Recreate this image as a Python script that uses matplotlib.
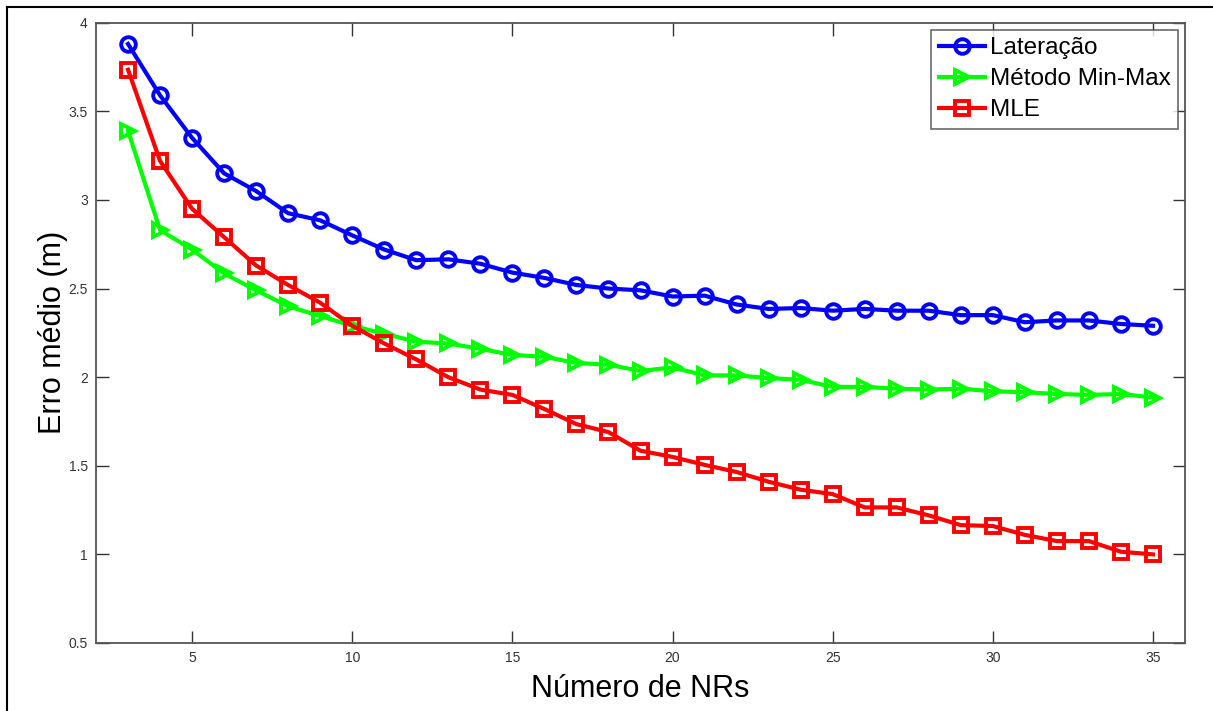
import matplotlib
matplotlib.use("Agg")
import matplotlib.pyplot as plt
from matplotlib.lines import Line2D

plt.rcParams['font.family'] = ['Liberation Sans', 'DejaVu Sans']

# dados
nrs = list(range(3, 36))
lateracao = [3.88, 3.59, 3.35, 3.15, 3.05, 2.925, 2.885, 2.80, 2.72, 2.66, 2.665,
             2.64, 2.59, 2.56, 2.52, 2.50, 2.49, 2.455, 2.46, 2.41, 2.385, 2.39,
             2.375, 2.385, 2.375, 2.375, 2.35, 2.35, 2.31, 2.32, 2.32, 2.30, 2.29]
min_max = [3.39, 2.83, 2.72, 2.585, 2.49, 2.40, 2.345, 2.29, 2.245, 2.20, 2.19,
           2.16, 2.125, 2.115, 2.08, 2.07, 2.035, 2.055, 2.01, 2.01, 1.995, 1.985,
           1.945, 1.945, 1.935, 1.93, 1.935, 1.92, 1.915, 1.905, 1.90, 1.905, 1.885]
mle = [3.735, 3.22, 2.95, 2.79, 2.63, 2.52, 2.42, 2.29, 2.19, 2.10, 2.00,
       1.93, 1.90, 1.82, 1.735, 1.69, 1.585, 1.55, 1.505, 1.465, 1.41, 1.365,
       1.34, 1.265, 1.265, 1.22, 1.165, 1.16, 1.11, 1.075, 1.075, 1.015, 1.0]

W, H = 1213, 711
fig = plt.figure(figsize=(W / 100, H / 100), dpi=100)
ax = fig.add_axes([96 / W, 1 - 643 / H, (1185 - 96) / W, (643 - 22.7) / H])

estilo = dict(linewidth=3, markersize=10.5, markeredgewidth=2.8, markerfacecolor='none')
ax.plot(nrs, lateracao, '-o', color='#0000ff', label='Lateração', **estilo)
ax.plot(nrs, min_max, '->', color='#00ff00', label='Método Min-Max', **estilo)
ax.plot(nrs, mle, '-s', color='#ff0000', label='MLE', **estilo)

ax.set_xlim(2, 36)
ax.set_ylim(0.5, 4)
ax.set_xticks([5, 10, 15, 20, 25, 30, 35])
ax.set_yticks([0.5, 1, 1.5, 2, 2.5, 3, 3.5, 4])
ax.set_yticklabels(['0.5', '1', '1.5', '2', '2.5', '3', '3.5', '4'])
ax.tick_params(direction='in', length=9, width=1, colors='#333333', labelsize=10,
               top=True, right=True, pad=6)
for s in ax.spines.values():
    s.set_color('#555555')
    s.set_linewidth(1.3)

ax.set_xlabel('Número de NRs', fontsize=22, labelpad=6)
ax.set_ylabel('Erro médio (m)', fontsize=22, labelpad=0)

leg = ax.legend(loc='upper right', fontsize=17.5, frameon=True, fancybox=False,
                borderpad=0.3, labelspacing=0.37, handlelength=1.9,
                handletextpad=0.2, borderaxespad=0.3)
leg.get_frame().set_edgecolor('#444444')
leg.get_frame().set_linewidth(1.2)

# moldura preta externa (topo e esquerda)
fig.add_artist(Line2D([6.5 / W, 6.5 / W], [0, 1 - 7 / H], color='black', lw=1.5,
                      transform=fig.transFigure))
fig.add_artist(Line2D([6.5 / W, 1], [1 - 7 / H, 1 - 7 / H], color='black', lw=1.5,
                      transform=fig.transFigure))

fig.savefig('out.png', dpi=100)
